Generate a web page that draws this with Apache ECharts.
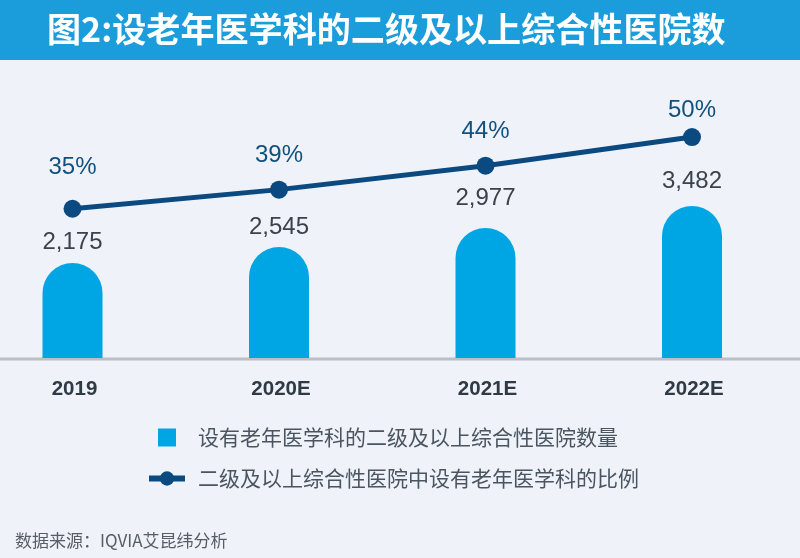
<!DOCTYPE html>
<html lang="zh">
<head>
    <meta charset="utf-8">
    <title>设老年医学科的二级及以上综合性医院数</title>
    <script src="https://cdn.jsdelivr.net/npm/echarts@6/dist/echarts.min.js"></script>
    <style>
        html, body { margin: 0; padding: 0; background: #eff2f8; }
        #main { width: 800px; height: 558px; }
    </style>
</head>
<body>
<div id="main"></div>

<script type="text/javascript">
    var years = ['2019', '2020E', '2021E', '2022E'];
    var hospitals = [2175, 2545, 2977, 3482];
    var ratios = [35, 39, 44, 50];

    var barName = '设有老年医学科的二级及以上综合性医院数量';
    var lineName = '二级及以上综合性医院中设有老年医学科的比例';

    // 每个标签离图形的距离
    var barLabelGap = [9, 8, 18, 13];
    var lineLabelGap = [20, 13, 13, 6];

    var cjk = '"Noto Sans CJK SC", sans-serif';
    var latin = '"Liberation Sans", Arial, sans-serif';

    var myChart = echarts.init(document.getElementById('main'));

    myChart.setOption({
        animation: false,
        backgroundColor: '#eff2f8',
        title: {
            text: '图2:设老年医学科的二级及以上综合性医院数',
            left: 42,
            top: 7,
            textStyle: { color: '#fff', fontFamily: cjk, fontSize: 34.1, fontWeight: 'bold' }
        },
        graphic: [{
            type: 'rect',
            z: -1,
            shape: { x: 0, y: 0, width: 800, height: 60 },
            style: { fill: '#1b9ddb' }
        }, {
            type: 'line',
            z: -1,
            shape: { x1: 0, y1: 359, x2: 800, y2: 359 },
            style: { stroke: '#bcbfc5', lineWidth: 3 }
        }, {
            type: 'text',
            left: 15,
            top: 532,
            style: {
                text: '数据来源：IQVIA艾昆纬分析',
                fill: '#565d66',
                font: '17px ' + cjk
            }
        }],
        legend: {
            orient: 'vertical',
            left: 141,
            top: 422,
            itemWidth: 36,
            itemHeight: 18,
            itemGap: 20,
            selectedMode: false,
            lineStyle: { width: 6 },
            textStyle: { color: '#4a5560', fontFamily: cjk, fontSize: 21, padding: [0, 0, 0, 8] },
            data: [{ name: barName, icon: 'path://M0,0H10V10H0Z' }, { name: lineName }]
        },
        grid: { outerBoundsMode: 'none', left: -30.75, top: 60, width: 826, height: 298 },
        xAxis: {
            type: 'category',
            data: years,
            axisLine: { show: false },
            axisTick: { show: false },
            axisLabel: {
                color: '#2f3a45',
                fontFamily: latin,
                fontSize: 20.5,
                fontWeight: 'bold',
                margin: 21,
                padding: [0, 0, 0, 4]
            }
        },
        yAxis: [
            { type: 'value', min: 0, max: 6825, show: false },
            { type: 'value', min: 3.8, max: 66.1, show: false }
        ],
        series: [{
            name: barName,
            type: 'bar',
            barWidth: 60,
            itemStyle: { color: '#00a6e4', borderRadius: [30, 30, 0, 0] },
            label: {
                show: true,
                position: 'top',
                color: '#3b424c',
                fontFamily: latin,
                fontSize: 24,
                formatter: function (p) { return p.value.toLocaleString('en-US'); }
            },
            data: hospitals.map(function (v, i) {
                return { value: v, label: { distance: barLabelGap[i] } };
            })
        }, {
            name: lineName,
            type: 'line',
            yAxisIndex: 1,
            symbol: 'circle',
            symbolSize: 18,
            lineStyle: { color: '#0b4a80', width: 5 },
            itemStyle: { color: '#0b4a80' },
            label: {
                show: true,
                position: 'top',
                color: '#10517f',
                fontFamily: latin,
                fontSize: 24,
                formatter: '{c}%'
            },
            data: ratios.map(function (v, i) {
                return { value: v, label: { distance: lineLabelGap[i] } };
            })
        }]
    });
</script>
</body>
</html>
